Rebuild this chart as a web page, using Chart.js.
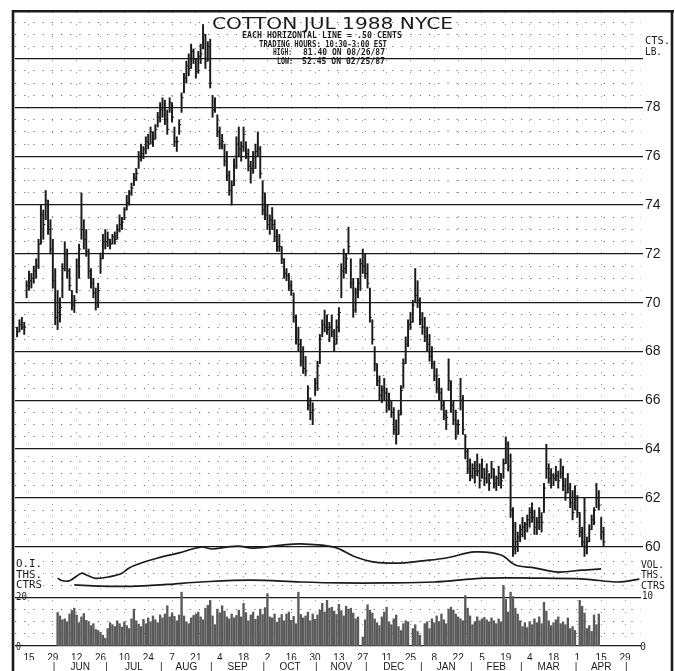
<!DOCTYPE html>
<html>
<head>
<meta charset="utf-8">
<script src="https://cdn.jsdelivr.net/npm/chart.js@4.4.1/dist/chart.umd.min.js"></script>
<style>
  html, body { margin: 0; padding: 0; background: #fff; }
</style>
</head>
<body>
<canvas id="myChart" width="675" height="671"></canvas>
<script>
// trading day 0 = Fri May 15, 1987 (weekdays only)
const firstPriceDay = -5
const highs = [
  69.0, 69.3, 69.4, 69.2, 70.9, 71.3, 71.2, 71.5, 71.8, 72.6,
  74.0, 73.8, 74.6, 74.2, 73.4, 72.6, 71.4, 70.5, 70.2, 71.6,
  72.5, 72.2, 71.4, 70.5, 70.3, 71.8, 72.4, 74.5, 73.4, 73.0,
  72.2, 71.4, 71.0, 70.6, 70.8, 72.0, 72.8, 73.0, 72.9, 72.6,
  72.8, 72.9, 73.2, 73.6, 73.5, 73.9, 74.4, 74.6, 74.9, 75.3,
  75.5, 76.2, 76.5, 76.4, 76.8, 76.9, 77.2, 77.0, 77.3, 77.8,
  78.2, 78.4, 78.3, 77.9, 78.4, 78.2, 77.2, 76.8, 77.5, 78.6,
  79.4, 79.9, 80.2, 80.6, 80.4, 80.0, 80.3, 80.6, 81.4, 81.0,
  80.7, 80.8, 78.5, 78.4, 77.7, 77.2, 76.9, 76.5, 76.2, 75.4,
  75.0, 75.9, 76.8, 77.2, 76.6, 77.2, 76.6, 76.3, 75.8, 76.2,
  76.5, 77.0, 76.4, 75.0, 74.5, 74.0, 73.6, 73.9, 73.4, 73.0,
  72.8, 72.3, 71.8, 71.4, 71.2, 70.9, 70.4, 69.5, 69.0, 68.5,
  68.2, 67.8, 66.6, 66.1, 65.9, 66.9, 67.6, 68.7, 69.3, 69.7,
  69.5, 69.2, 69.5, 68.9, 69.3, 69.8, 71.6, 72.2, 72.0, 73.1,
  71.8, 71.0, 70.6, 71.0, 71.8, 72.2, 72.0, 71.6, 70.6, 69.3,
  68.2, 67.5, 67.0, 66.6, 66.9, 66.5, 66.3, 66.0, 65.7, 65.2,
  65.6, 66.6, 67.7, 68.6, 69.3, 69.6, 70.1, 71.4, 70.9, 70.2,
  69.6, 69.4, 69.0, 68.7, 68.2, 67.6, 67.3, 66.9, 66.5, 66.0,
  65.6, 67.7, 66.8, 66.0, 65.6, 65.2, 66.9, 66.2, 64.6, 64.0,
  63.6, 63.4, 63.5, 63.8, 63.4, 63.6, 63.2, 63.4, 63.0, 63.5,
  63.2, 62.9, 63.3, 63.0, 63.6, 64.5, 64.3, 63.8, 61.6, 61.0,
  60.6, 60.9, 61.2, 61.0, 61.3, 61.6, 61.8, 61.5, 61.2, 61.6,
  61.4, 62.6, 64.2, 63.4, 63.2, 63.0, 63.3, 63.1, 63.6, 63.3,
  62.8, 63.0, 62.6, 62.3, 62.5, 62.1, 61.4, 60.8, 62.0, 60.4,
  60.9, 61.3, 61.6, 62.6, 62.3, 61.2, 60.8
]
const lows = [
  68.6, 68.8, 68.9, 68.7, 70.2, 70.5, 70.6, 70.8, 71.0, 71.4,
  72.4, 72.6, 73.4, 72.8, 72.0, 70.6, 69.1, 68.9, 69.2, 70.2,
  71.3, 71.0, 70.5, 69.7, 69.6, 70.4, 71.0, 72.6, 72.2, 71.9,
  71.0, 70.6, 70.2, 69.7, 69.8, 71.2, 71.8, 72.2, 72.3, 72.2,
  72.4, 72.4, 72.6, 72.9, 73.0, 73.4, 73.8, 74.0, 74.4, 74.8,
  75.0, 75.5, 75.8, 75.9, 76.1, 76.3, 76.5, 76.4, 76.7, 77.2,
  77.4, 77.6, 77.3, 76.9, 77.8, 77.4, 76.4, 76.2, 76.9, 77.8,
  78.6, 79.0, 79.3, 79.6, 79.8, 79.2, 79.4, 79.8, 80.4, 79.6,
  79.9, 78.8, 77.6, 77.8, 76.8, 76.3, 76.3, 75.6, 75.0, 74.4,
  74.0, 74.8, 75.5, 76.0, 75.8, 76.2, 75.9, 75.4, 74.9, 75.3,
  75.5, 76.0, 75.1, 73.6, 73.4, 73.0, 72.8, 73.0, 72.5, 72.1,
  72.1, 71.6, 71.0, 70.9, 70.5, 70.3, 69.2, 68.3, 68.0, 67.4,
  67.1, 67.0, 65.6, 65.2, 65.0, 66.2, 66.4, 67.5, 68.6, 68.8,
  68.7, 68.4, 68.6, 68.0, 68.3, 68.8, 70.2, 71.0, 71.2, 72.0,
  70.6, 69.4, 69.6, 70.2, 70.5, 71.2, 71.0, 70.6, 69.2, 68.3,
  67.2, 66.6, 66.0, 65.9, 66.0, 65.5, 65.6, 65.3, 64.6, 64.2,
  64.6, 65.4, 66.5, 67.5, 68.2, 68.9, 69.2, 70.0, 69.8, 69.1,
  68.7, 68.4, 68.0, 67.6, 67.3, 66.8, 66.3, 66.0, 65.6, 65.2,
  64.8, 66.4, 65.5, 65.0, 64.4, 64.6, 65.6, 64.6, 63.6, 63.0,
  62.7, 62.8, 62.6, 62.9, 62.4, 62.8, 62.5, 62.6, 62.3, 62.8,
  62.4, 62.3, 62.5, 62.4, 62.8, 63.4, 63.1, 61.2, 59.6, 59.7,
  59.8, 60.2, 60.4, 60.3, 60.6, 60.8, 61.0, 60.5, 60.5, 60.7,
  60.6, 61.4, 62.8, 62.6, 62.4, 62.5, 62.7, 62.4, 62.8, 62.3,
  61.9, 62.2, 61.6, 61.1, 61.5, 61.2, 60.4, 60.0, 59.6, 59.7,
  60.2, 60.7, 60.9, 61.6, 61.5, 60.3, 60.0
]
const closes = [
  68.8, 69.1, 69.0, 69.0, 70.7, 70.9, 71.0, 71.3, 71.5, 72.4,
  73.6, 73.2, 74.2, 73.0, 72.2, 70.9, 69.4, 69.6, 69.8, 71.4,
  72.0, 71.3, 70.7, 69.9, 70.1, 71.5, 72.2, 73.0, 72.6, 72.1,
  71.3, 70.8, 70.4, 70.0, 70.5, 71.8, 72.5, 72.5, 72.6, 72.4,
  72.7, 72.6, 73.0, 73.2, 73.3, 73.8, 74.1, 74.5, 74.7, 75.1,
  75.3, 76.0, 76.1, 76.3, 76.6, 76.5, 77.0, 76.7, 77.1, 77.6,
  77.9, 78.0, 77.5, 77.1, 78.2, 77.6, 76.6, 76.6, 77.3, 78.4,
  79.2, 79.7, 79.6, 80.3, 80.0, 79.5, 80.1, 80.2, 81.0, 79.9,
  80.5, 79.0, 77.9, 78.0, 77.0, 76.5, 76.6, 75.8, 75.2, 74.6,
  74.8, 75.6, 76.5, 76.3, 76.4, 76.9, 76.1, 75.6, 75.5, 76.0,
  76.2, 76.3, 75.3, 73.8, 73.6, 73.2, 73.4, 73.2, 72.7, 72.3,
  72.3, 71.8, 71.2, 71.1, 70.7, 70.5, 69.4, 68.5, 68.3, 67.6,
  67.3, 67.2, 65.8, 65.5, 65.6, 66.7, 67.4, 68.5, 69.1, 69.0,
  68.9, 69.0, 68.8, 68.3, 69.0, 69.6, 71.3, 71.4, 71.8, 72.3,
  70.8, 69.7, 70.4, 70.8, 71.6, 71.5, 71.2, 70.8, 69.4, 68.5,
  67.5, 66.8, 66.2, 66.4, 66.3, 65.8, 66.0, 65.5, 64.8, 64.6,
  65.4, 66.4, 67.5, 68.3, 69.1, 69.2, 69.9, 70.3, 70.1, 69.3,
  69.0, 68.6, 68.3, 67.8, 67.5, 67.0, 66.5, 66.3, 65.8, 65.4,
  65.3, 66.8, 65.8, 65.2, 65.0, 65.0, 66.0, 64.8, 63.9, 63.2,
  62.9, 63.2, 63.1, 63.1, 62.7, 63.2, 62.8, 63.1, 62.6, 63.2,
  62.6, 62.8, 63.0, 62.7, 63.4, 64.2, 63.3, 61.5, 59.9, 60.2,
  60.4, 60.7, 60.8, 60.9, 61.1, 61.4, 61.2, 60.8, 61.0, 61.2,
  61.0, 62.4, 63.2, 62.8, 62.9, 62.8, 62.9, 62.7, 63.0, 62.5,
  62.2, 62.4, 61.8, 61.4, 62.0, 61.4, 60.6, 60.2, 60.0, 60.2,
  60.7, 61.1, 61.5, 62.0, 61.7, 60.6, 60.2
]

// volume, thousands of contracts, from trading day 12
const firstVolDay = 12
const volume = [
  6.9, 6.2, 5.4, 5.6, 5.0, 6.6, 7.3, 7.8, 6.4, 4.8,
  6.0, 6.7, 5.3, 5.0, 4.2, 4.6, 3.4, 3.2, 2.8, 2.2,
  1.6, 3.6, 4.8, 4.4, 4.0, 5.2, 4.6, 3.9, 5.0, 4.2,
  3.6, 5.6, 7.6, 5.2, 4.5, 4.0, 5.5, 4.6, 5.8, 5.0,
  6.2, 5.4, 4.8, 6.4, 5.8, 6.6, 8.3, 6.0, 6.8, 6.1,
  5.2, 6.4, 11.1, 6.2, 5.0, 4.6, 5.8, 6.3, 6.6, 7.0,
  6.0, 5.4, 7.8, 8.4, 9.4, 6.2, 4.4, 7.6, 6.8, 8.3,
  7.2, 6.0, 5.6, 6.6, 5.8, 6.3, 7.4, 6.0, 8.8, 6.9,
  5.2, 6.4, 7.0, 5.5, 6.2, 7.6, 6.5, 7.9, 10.8, 6.0,
  5.8, 6.6, 4.9, 5.8, 6.5, 5.2, 6.6, 7.0, 5.3, 6.1,
  4.6, 11.1, 6.5, 5.8, 6.2, 7.0, 5.2, 6.6, 5.5, 6.4,
  7.4, 8.8, 7.0, 9.4, 7.8, 8.0, 7.2, 6.5, 8.6, 7.3,
  6.2, 8.2, 7.6, 7.8, 6.8, 5.6, 6.0, 0, 1.8, 5.4,
  8.5, 7.4, 6.8, 5.6, 4.8, 4.2, 6.0, 7.0, 8.0, 5.0,
  4.4, 5.6, 6.4, 4.0, 3.2, 4.6, 5.2, 5.0, 0, 3.6,
  4.4, 3.0, 2.2, 0, 4.6, 5.0, 3.6, 5.6, 4.8, 6.2,
  5.0, 6.6, 5.4, 4.6, 7.6, 8.0, 7.4, 6.6, 6.0, 5.6,
  5.2, 10.4, 7.8, 6.2, 4.4, 5.0, 6.0, 5.2, 5.6, 5.9,
  5.4, 5.0, 5.8, 5.2, 4.6, 5.6, 5.0, 12.5, 9.6, 7.0,
  11.1, 10.2, 7.8, 6.6, 5.2, 4.0, 4.8, 3.8, 5.0, 4.4,
  5.6, 4.8, 6.0, 4.6, 9.0, 7.2, 5.2, 4.2, 4.8, 5.4,
  6.0, 4.6, 5.0, 4.4, 5.8, 3.6, 4.0, 3.2, 0, 9.4,
  8.2, 6.8, 3.6, 4.2, 3.0, 6.4, 4.4, 6.6
]

// open interest, thousands of contracts
const oiDays = [12, 14, 17, 22, 24, 28, 34, 39, 42, 47, 54, 63, 72, 77, 83, 88, 94, 106, 114, 128, 137, 145, 156, 165, 175, 187, 198, 204, 212, 222, 232, 240]
const oiValues = [27.9, 26.9, 26.9, 30.0, 29.3, 27.9, 28.6, 30.0, 32.2, 34.2, 36.3, 38.4, 40.8, 40.0, 40.8, 41.2, 40.4, 41.6, 42.1, 40.8, 36.7, 34.6, 34.2, 35.1, 36.3, 38.8, 37.5, 33.4, 32.2, 30.5, 31.3, 31.8]
const ctrsDays = [19, 30, 43, 58, 72, 93, 114, 131, 149, 170, 191, 212, 233, 247, 256]
const ctrsValues = [25.2, 24.7, 24.6, 25.4, 26.4, 27.2, 26.4, 26.0, 26.0, 26.4, 28.0, 28.0, 27.6, 26.4, 27.6]

const dayLabels = ['15', '29', '12', '26', '10', '24', '7', '21', '4', '18', '2', '16', '30',
  '13', '27', '11', '25', '8', '22', '5', '19', '4', '18', '1', '15', '29']
const monthStarts = [11, 33, 56, 77, 99, 121, 142, 165, 186, 207, 230, 251]
const monthNames = ['JUN', 'JUL', 'AUG', 'SEP', 'OCT', 'NOV', 'DEC', 'JAN', 'FEB', 'MAR', 'APR']
const priceTicks = [60, 62, 64, 66, 68, 70, 72, 74, 76, 78, 80]
const volDotTicks = [2.5, 5, 7.5, 12.5, 15, 17.5]
const oiTicks = [0, 20]

const ink = '#1b1b1b'
const dots = '#6a6a6a'
const xMin = -5.87, xMax = 256.7

const monthLabelMap = {}
function monthTicks() {
  const t = []
  monthStarts.forEach((d, i) => {
    monthLabelMap[d - 0.5] = '|'
    t.push({ value: d - 0.5 })
    if (i < monthNames.length) {
      const mid = (d + monthStarts[i + 1]) / 2 - 0.5
      monthLabelMap[mid] = monthNames[i]
      t.push({ value: mid })
    }
  })
  return t
}

function stretchText(ctx, text, x, y, width) {
  const w = ctx.measureText(text).width
  ctx.save()
  ctx.translate(x, y)
  ctx.scale(width / w, 1)
  ctx.fillText(text, 0, 0)
  ctx.restore()
}

const paperText = {
  id: 'paperText',
  afterDraw(chart) {
    const { ctx } = chart
    ctx.save()
    ctx.fillStyle = ink
    ctx.textAlign = 'left'
    ctx.textBaseline = 'alphabetic'

    // title block
    ctx.font = '16px "DejaVu Sans"'
    stretchText(ctx, 'COTTON JUL 1988 NYCE', 212, 28.5, 241)
    ctx.font = 'bold 8px "DejaVu Sans Mono"'
    stretchText(ctx, 'EACH HORIZONTAL LINE = .50 CENTS', 242, 37.5, 160)
    stretchText(ctx, 'TRADING HOURS: 10:30-3:00 EST', 259, 46.8, 128)
    stretchText(ctx, 'HIGH:', 273, 54.6, 19)
    stretchText(ctx, '81.40 ON 08/26/87', 303, 54.6, 82)
    stretchText(ctx, 'LOW:', 277, 64, 16)
    stretchText(ctx, '52.45 ON 02/25/87', 302, 64, 83)

    // units, right side
    ctx.font = '10px "DejaVu Sans Mono"'
    stretchText(ctx, 'CTS.', 645, 43.5, 25)
    stretchText(ctx, 'LB.', 645, 55, 17)
    stretchText(ctx, 'VOL.', 641, 567.5, 23)
    stretchText(ctx, 'THS.', 641, 578, 23)
    stretchText(ctx, 'CTRS', 641, 588.5, 24)
    stretchText(ctx, '10', 642, 599, 11)
    stretchText(ctx, '0', 640, 649.5, 6)

    // left side
    ctx.fillStyle = '#fff'
    ctx.fillRect(15, 558, 28, 32)
    ctx.fillStyle = ink
    stretchText(ctx, 'O.I.', 16, 567, 26)
    stretchText(ctx, 'THS.', 16, 577.5, 26)
    stretchText(ctx, 'CTRS', 16, 588, 26)
    stretchText(ctx, '20', 16, 600, 11)
    stretchText(ctx, '0', 16, 649.5, 5)

    // paper frame
    ctx.strokeStyle = ink
    ctx.lineWidth = 2.6
    ctx.beginPath()
    ctx.moveTo(13, 10); ctx.lineTo(13, 671)
    ctx.moveTo(12, 11.3); ctx.lineTo(674, 11.3)
    ctx.moveTo(672, 10); ctx.lineTo(672, 671)
    ctx.stroke()
    ctx.restore()
  }
}

const ctx = document.getElementById('myChart')

new Chart(ctx, {
  type: 'bar',
  data: {
    datasets: [
      {
        type: 'line',
        data: oiDays.map((d, i) => ({ x: d, y: oiValues[i] })),
        yAxisID: 'yOI',
        borderColor: ink,
        borderWidth: 1.7,
        pointRadius: 0,
        tension: 0.35,
        order: 0
      },
      {
        type: 'line',
        data: ctrsDays.map((d, i) => ({ x: d, y: ctrsValues[i] })),
        yAxisID: 'yOI',
        borderColor: ink,
        borderWidth: 1.7,
        pointRadius: 0,
        tension: 0.35,
        order: 0
      },
      {
        type: 'line',
        showLine: false,
        data: closes.map((c, i) => ({ x: firstPriceDay + i, y: c })),
        yAxisID: 'y',
        pointStyle: 'dash',
        pointRadius: 2,
        pointBorderWidth: 1,
        pointBorderColor: ink,
        pointBackgroundColor: ink,
        order: 1
      },
      {
        data: highs.map((h, i) => ({ x: firstPriceDay + i, y: [lows[i], h] })),
        yAxisID: 'y',
        backgroundColor: ink,
        barThickness: 1.3,
        grouped: false,
        order: 2
      },
      {
        data: volume.map((v, i) => ({ x: firstVolDay + i, y: v })),
        yAxisID: 'yVol',
        backgroundColor: '#5a5a5a',
        barThickness: 1.7,
        grouped: false,
        order: 3
      }
    ]
  },
  options: {
    responsive: false,
    animation: false,
    devicePixelRatio: 1,
    events: [],
    layout: { padding: { left: 15, top: 12, right: 0, bottom: 0 } },
    plugins: { legend: { display: false }, tooltip: { enabled: false } },
    scales: {
      x: {
        type: 'linear', position: 'bottom', min: xMin, max: xMax, offset: false,
        afterBuildTicks: s => { s.ticks = dayLabels.map((l, i) => ({ value: i * 10 })) },
        afterFit: s => { s.height = 14 },
        ticks: {
          autoSkip: false, maxRotation: 0, padding: 6, color: ink,
          font: { family: 'Liberation Sans', size: 10 },
          callback: (v, i) => dayLabels[i]
        },
        grid: { color: '#9a9a9a', lineWidth: 1, drawTicks: false, offset: false },
        border: { display: false, dash: [1, 11] }
      },
      x2: {
        type: 'linear', position: 'bottom', min: xMin, max: xMax, offset: false,
        afterBuildTicks: s => { s.ticks = monthTicks() },
        afterFit: s => { s.height = 11 },
        ticks: {
          autoSkip: false, maxRotation: 0, padding: 1, color: ink,
          font: { family: 'Liberation Sans', size: 10 },
          callback: v => monthLabelMap[v] || ''
        },
        grid: { display: false, drawTicks: false },
        border: { display: false }
      },
      y: {
        position: 'right', min: 55.93, max: 81.914,
        afterBuildTicks: s => { s.ticks = priceTicks.map(v => ({ value: v })) },
        afterFit: s => { s.width = 34 },
        ticks: {
          padding: 2, color: ink,
          font: { family: 'Liberation Sans', size: 14 },
          callback: v => (v <= 78 ? String(v) : '')
        },
        grid: { color: ink, lineWidth: 1.3, tickLength: 2, tickColor: ink, tickWidth: 1.3 },
        border: { display: false }
      },
      yDot: {
        position: 'right', min: 55.93, max: 81.914,
        afterBuildTicks: s => {
          const t = []
          priceTicks.slice(0, -1).forEach(p => { t.push({ value: p + 0.5 }, { value: p + 1 }, { value: p + 1.5 }) })
          t.push({ value: 80.5 }, { value: 81 }, { value: 81.5 })
          s.ticks = t
        },
        afterFit: s => { s.width = 0 },
        ticks: { display: false },
        grid: { color: dots, lineWidth: 1, drawTicks: false },
        border: { display: false, dash: [1.2, 8] }
      },
      yVol: {
        position: 'left', min: 0, max: 130.72,
        afterBuildTicks: s => { s.ticks = volDotTicks.map(v => ({ value: v })) },
        afterFit: s => { s.width = 0 },
        ticks: { display: false },
        grid: { color: dots, lineWidth: 1, drawTicks: false },
        border: { display: false, dash: [1.2, 8] }
      },
      yOI: {
        position: 'left', min: 0, max: 261.44,
        afterBuildTicks: s => { s.ticks = oiTicks.map(v => ({ value: v })) },
        afterFit: s => { s.width = 0 },
        ticks: { display: false },
        grid: { color: ink, lineWidth: 1.2, drawTicks: false },
        border: { display: false }
      }
    }
  },
  plugins: [paperText]
})
</script>
</body>
</html>
